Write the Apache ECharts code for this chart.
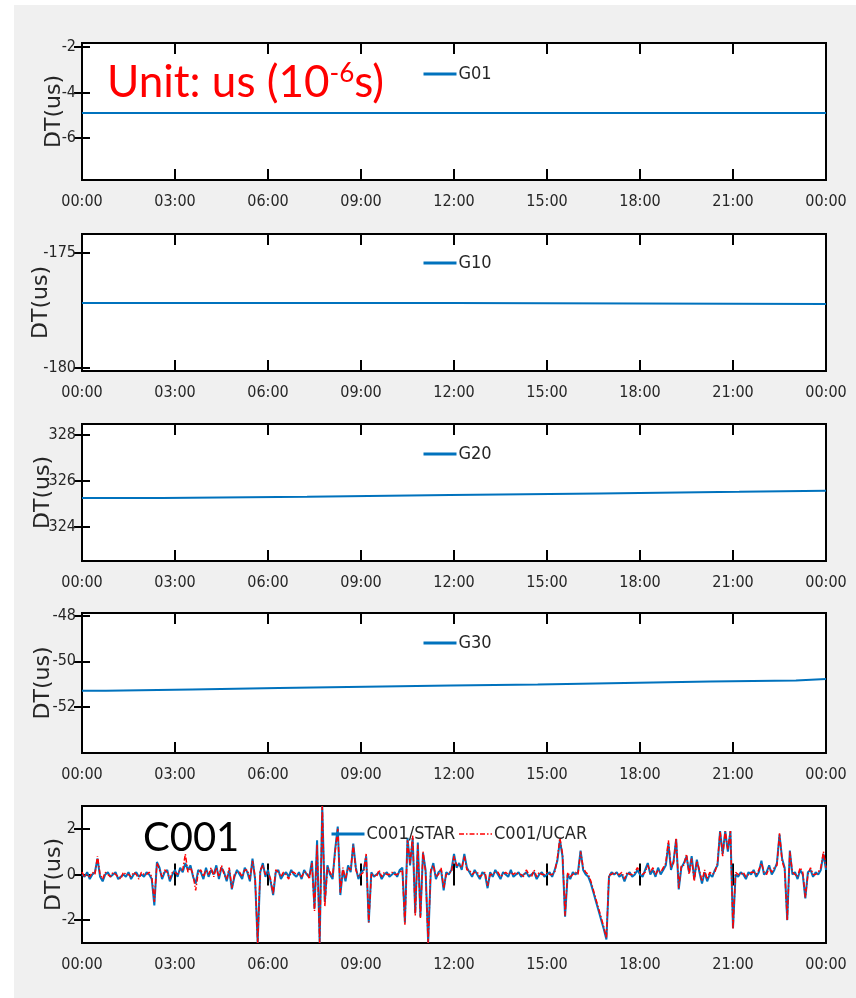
<!DOCTYPE html>
<html><head><meta charset="utf-8">
<script src="https://cdn.jsdelivr.net/npm/echarts@6/dist/echarts.min.js"></script>
<style>
html,body{margin:0;padding:0;background:#fff;}
#bg{position:absolute;left:14px;top:5px;right:0;bottom:0;background:#f0f0f0;}
#chart{position:absolute;left:0;top:0;width:856px;height:998px;}
</style></head><body><div id="bg"></div><div id="chart"></div>
<script>
// ---- data ----
const xTickValues = [0, 3, 6, 9, 12, 15, 18, 21, 24];
const xTickLabels = ['00:00','03:00','06:00','09:00','12:00','15:00','18:00','21:00','00:00'];

const panelNames = ['G01', 'G10', 'G20', 'G30'];
const g01Times = [0, 24];
const g01Values = [-4.90, -4.90];
const g10Times = [0, 12, 24];
const g10Values = [-177.17, -177.22, -177.22];
const g20Times = [0, 2.58, 7.26, 11.87, 16.7, 21.2, 24];
const g20Values = [325.25, 325.30, 325.38, 325.45, 325.52, 325.57, 325.57];
const g30Times = [0, 0.77, 3.55, 6.35, 9.13, 11.9, 14.7, 17.5, 20.26, 23.03, 24];
const g30Values = [-51.30, -51.24, -51.18, -51.12, -51.07, -51.02, -50.95, -50.89, -50.84, -50.78, -50.78];

const yTicksG01 = [-6, -4, -2];
const yTicksG10 = [-180, -175];
const yTicksG20 = [324, 326, 328];
const yTicksG30 = [-52, -50, -48];
const yTicksC001 = [-2, 0, 2];

const c001SampleMinutes = 5;
const c001Star = [
 0.0,-0.1,0.1,-0.2,0.0,0.1,0.7,-0.1,-0.3,0.0,0.1,-0.1,
 0.0,0.1,-0.2,-0.1,0.0,-0.1,0.1,-0.2,0.0,0.1,-0.1,0.0,
 -0.1,0.1,0.0,-0.2,-1.35,0.55,0.3,-0.2,0.1,0.2,-0.3,0.0,
 0.2,-0.1,0.3,0.1,0.5,0.2,0.4,-0.1,-0.4,0.2,0.1,-0.2,
 0.3,-0.1,0.2,0.0,0.4,-0.2,0.3,0.1,-0.3,0.2,-0.65,-0.1,
 0.2,0.0,-0.2,0.3,0.1,-0.3,0.7,-0.2,-3.0,0.1,0.5,-0.1,
 0.2,-0.3,-0.9,0.1,0.2,-0.2,0.0,0.1,-0.1,0.2,0.0,-0.1,
 0.1,-0.2,0.2,0.0,-0.1,0.6,-1.5,1.5,-3.0,3.0,-1.2,0.4,
 0.0,-0.2,1.1,2.1,-0.9,0.2,-0.3,0.4,0.1,1.35,0.3,-0.2,
 0.1,0.2,0.8,-2.1,0.1,-0.1,0.0,0.1,-0.2,0.0,0.1,-0.1,
 0.0,0.1,-0.1,0.2,0.3,-2.1,1.6,0.4,1.6,-1.7,1.4,-1.85,
 0.95,0.2,-3.0,0.1,0.5,-0.2,0.1,0.2,-0.7,0.1,0.0,0.2,
 0.9,0.3,0.5,0.2,0.9,0.3,0.1,-0.1,0.2,0.0,-0.2,0.1,
 0.0,-0.6,0.1,-0.1,0.2,0.0,-0.2,0.1,0.0,-0.1,0.2,-0.1,
 0.0,0.1,-0.1,0.0,0.1,-0.1,0.0,0.1,-0.2,0.0,0.1,-0.1,
 0.0,0.1,-0.1,0.2,0.6,1.5,0.8,-1.85,0.0,-0.2,0.1,0.0,
 0.1,1.05,0.2,0.0,-0.1,-0.4,-0.8,-1.2,-1.6,-2.0,-2.4,-2.85,
 -0.1,0.1,0.0,0.1,-0.1,0.0,-0.3,0.0,0.1,-0.1,0.0,0.2,
 0.0,-0.1,0.2,0.5,0.0,0.2,-0.1,0.3,0.0,0.2,0.4,1.35,
 0.2,0.6,1.55,-0.65,0.3,0.5,0.8,0.1,0.8,-0.2,0.65,0.1,
 -0.4,0.1,-0.3,0.0,-0.1,0.2,0.4,1.9,0.9,1.9,1.0,1.9,
 -2.35,0.0,-0.1,0.1,0.0,-0.2,0.1,0.0,0.2,-0.1,0.1,0.6,
 0.0,0.1,0.4,0.0,0.2,0.5,1.75,0.7,0.3,-2.0,1.05,0.0,
 0.1,-0.2,0.2,0.0,-1.05,0.1,0.2,-0.1,0.1,0.0,0.2,0.9,
 0.2
];
const c001Ucar = [
 0.1,-0.1,0.0,-0.1,0.1,0.0,0.8,0.0,-0.2,0.1,0.0,-0.1,
 0.1,0.0,-0.1,-0.2,0.1,0.0,0.0,-0.1,0.1,0.0,-0.2,0.1,
 0.0,0.0,0.1,-0.1,-1.2,0.5,0.2,-0.1,0.2,0.1,-0.2,0.1,
 0.1,0.0,0.2,0.2,0.9,0.1,0.3,0.0,-0.7,0.1,0.2,-0.1,
 0.2,0.0,0.3,-0.1,0.3,-0.1,0.4,0.0,-0.2,0.3,-0.6,0.0,
 0.1,0.1,-0.1,0.2,0.2,-0.2,0.6,-0.1,-3.0,0.2,0.4,0.0,
 0.1,-0.2,-0.85,0.2,0.1,-0.1,0.1,0.0,-0.2,0.1,0.1,0.0,
 0.0,-0.1,0.1,0.1,-0.2,0.5,-1.6,1.3,-3.0,3.0,-1.4,0.3,
 0.1,-0.1,1.0,2.0,-0.8,0.3,-0.2,0.3,0.2,1.3,0.2,-0.1,
 0.0,0.1,0.9,-2.1,0.0,0.0,-0.1,0.2,-0.1,0.1,0.0,0.0,
 0.1,0.0,0.0,0.1,0.2,-2.2,1.5,0.5,1.7,-1.8,1.3,-1.9,
 1.0,0.1,-3.0,0.2,0.4,-0.1,0.0,0.3,-0.6,0.0,0.1,0.1,
 0.8,0.4,0.4,0.3,0.8,0.2,0.2,0.0,0.1,0.1,-0.1,0.0,
 0.1,-0.5,0.0,0.0,0.1,0.1,-0.1,0.0,0.1,0.0,0.1,0.0,
 0.1,0.0,0.0,-0.1,0.2,0.0,-0.1,0.2,-0.1,0.1,0.0,0.0,
 0.1,0.0,0.0,0.1,0.7,1.6,0.9,-1.8,0.1,-0.1,0.0,0.1,
 0.0,1.0,0.3,0.1,0.0,-0.3,-0.7,-1.1,-1.5,-1.9,-2.3,-2.8,
 0.0,0.0,0.1,0.0,0.0,0.1,-0.2,0.1,0.0,0.0,0.1,0.3,
 0.1,0.0,0.1,0.4,0.1,0.3,0.0,0.2,0.1,0.3,0.5,1.5,
 0.3,0.5,1.6,-0.6,0.4,0.4,0.9,0.0,0.7,-0.3,0.6,0.2,
 -0.3,0.2,-0.2,0.1,0.0,0.1,0.5,1.9,0.8,1.9,1.1,1.9,
 -2.4,0.1,0.0,0.0,0.1,-0.1,0.0,0.1,0.1,0.0,0.2,0.5,
 0.1,0.0,0.3,0.1,0.3,0.4,1.8,0.6,0.2,-2.0,1.0,0.1,
 0.0,-0.1,0.3,0.1,-1.0,0.0,0.3,0.0,0.0,0.1,0.3,1.0,
 0.3
];

// ---- layout / styles ----
const tickFont = "'Liberation Sans Narrow','DejaVu Sans Condensed','Liberation Sans',sans-serif";
const textColor = '#262626';
const blue = '#0072BD';
const red = '#ff0000';
const noSymbol = {color: 'rgba(0,0,0,0)', borderColor: 'rgba(0,0,0,0)', borderWidth: 0, opacity: 0};

const gridBoxes = [
  {top: 43, height: 137, min: -7.85, max: -1.82, ticks: yTicksG01, nameGap: 17, legendTop: 65},
  {top: 234, height: 137, min: -180.13, max: -174.17, ticks: yTicksG10, nameGap: 30, legendTop: 254},
  {top: 424, height: 137, min: 322.5, max: 328.48, ticks: yTicksG20, nameGap: 28, legendTop: 445},
  {top: 613, height: 140, min: -54.03, max: -47.88, ticks: yTicksG30, nameGap: 28, legendTop: 634},
  {top: 806, height: 137, min: -3, max: 3, ticks: yTicksC001, nameGap: 17, legendTop: 825}
];

const pair = (ts, vs) => ts.map((t, i) => [t, vs[i]]);
const sampled = vs => vs.map((v, i) => [i * c001SampleMinutes / 60, v]);

const grid = [], xAxis = [], yAxis = [], legend = [], series = [];
gridBoxes.forEach((g, i) => {
  grid.push({left: 82, width: 744, top: g.top, height: g.height, show: true,
    backgroundColor: '#fff', borderColor: '#000', borderWidth: 2});
  const xBase = {gridIndex: i, type: 'value', min: 0, max: 24, interval: 3,
    splitLine: {show: false}, axisLine: {show: false},
    axisTick: {inside: true, length: 11, lineStyle: {color: '#000', width: 2}}};
  xAxis.push(Object.assign({}, xBase, {position: 'bottom',
    axisLabel: {margin: 14, fontFamily: tickFont, fontSize: 16, color: textColor,
      formatter: v => xTickLabels[xTickValues.indexOf(v)]}}));
  xAxis.push(Object.assign({}, xBase, {position: 'top', axisLabel: {show: false}}));
  const yBase = {gridIndex: i, type: 'value', min: g.min, max: g.max,
    splitLine: {show: false}, axisLine: {show: false},
    axisTick: {inside: true, length: 8, lineStyle: {color: '#000', width: 2}, customValues: g.ticks}};
  yAxis.push(Object.assign({}, yBase, {position: 'left',
    name: 'DT(us)', nameLocation: 'middle', nameGap: g.nameGap, nameRotate: 90, nameMoveOverlap: false,
    nameTextStyle: {fontFamily: 'DejaVu Sans', fontSize: 22, color: textColor},
    axisLabel: {margin: 6, fontFamily: tickFont, fontSize: 16, color: textColor, customValues: g.ticks}}));
  yAxis.push(Object.assign({}, yBase, {position: 'right', axisLabel: {show: false}}));
});

const gData = [[g01Times, g01Values], [g10Times, g10Values], [g20Times, g20Values], [g30Times, g30Values]];
panelNames.forEach((name, i) => {
  series.push({name, type: 'line', xAxisIndex: 2 * i, yAxisIndex: 2 * i, step: 'end',
    symbol: 'none', data: pair(gData[i][0], gData[i][1]),
    lineStyle: {color: blue, width: 2}, itemStyle: {color: blue}});
  legend.push({left: 422, top: gridBoxes[i].legendTop, padding: 0, itemWidth: 33, itemHeight: 14,
    data: [{name, lineStyle: {width: 3}, itemStyle: noSymbol}],
    textStyle: {fontFamily: tickFont, fontSize: 18, color: textColor, padding: [0, 0, 0, -3]}});
});

series.push({name: 'C001/STAR', type: 'line', xAxisIndex: 8, yAxisIndex: 8, symbol: 'none',
  data: sampled(c001Star), lineStyle: {color: blue, width: 2}, itemStyle: {color: blue}});
series.push({name: 'C001/UCAR', type: 'line', xAxisIndex: 8, yAxisIndex: 8, symbol: 'none',
  data: sampled(c001Ucar), lineStyle: {color: red, width: 1.5, type: [5, 2, 1.5, 2]}, itemStyle: {color: red}});
legend.push({left: 330, top: gridBoxes[4].legendTop, padding: 0, itemWidth: 33, itemHeight: 14, itemGap: 3,
  data: [{name: 'C001/STAR', lineStyle: {width: 3}, itemStyle: noSymbol},
         {name: 'C001/UCAR', lineStyle: {width: 1.5}, itemStyle: noSymbol}],
  textStyle: {fontFamily: tickFont, fontSize: 18, color: textColor, padding: [0, 0, 0, -3]}});

const chart = echarts.init(document.getElementById('chart'), null, {renderer: 'canvas'});
chart.setOption({
  animation: false,
  backgroundColor: 'transparent',
  grid, xAxis, yAxis, legend, series,
  graphic: [
    {type: 'text', left: 107, top: 61, z: 100,
      style: {text: '{a|Unit: us (10}{b|-6}{a|s)}',
        rich: {a: {fontFamily: 'Lato', fontSize: 44, fill: red, color: red},
               b: {fontFamily: 'Lato', fontSize: 26, fill: red, color: red, verticalAlign: 'top'}}}},
    {type: 'text', left: 143, top: 818, z: 100,
      style: {text: 'C001', fontFamily: 'Lato', fontSize: 40, fill: '#000'}}
  ]
});
</script></body></html>
